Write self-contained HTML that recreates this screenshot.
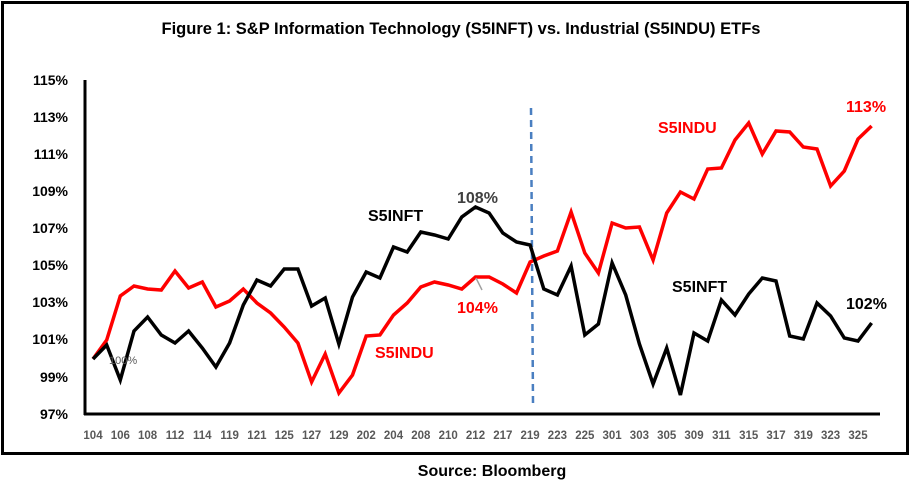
<!DOCTYPE html>
<html><head><meta charset="utf-8"><style>
body{margin:0;background:#fff;}
svg text{font-family:"Liberation Sans",Arial,sans-serif;}
</style></head><body>
<svg width="922" height="485" viewBox="0 0 922 485" xmlns="http://www.w3.org/2000/svg">
<rect x="0" y="0" width="922" height="485" fill="#fff"/>
<rect x="2.5" y="2.5" width="905" height="451" fill="none" stroke="#000" stroke-width="3"/>
<text x="461" y="34" text-anchor="middle" font-size="16.5" font-weight="bold">Figure 1:  S&amp;P Information Technology (S5INFT) vs. Industrial (S5INDU) ETFs</text>
<g font-size="14" font-weight="bold" text-anchor="end">
<text x="68" y="85">115%</text><text x="68" y="122">113%</text><text x="68" y="159">111%</text><text x="68" y="196">109%</text><text x="68" y="233">107%</text><text x="68" y="270">105%</text><text x="68" y="307">103%</text><text x="68" y="344">101%</text><text x="68" y="382">99%</text><text x="68" y="419">97%</text>
</g>
<line x1="85" y1="80" x2="85" y2="415" stroke="#000" stroke-width="3"/>
<line x1="84" y1="414" x2="880" y2="414" stroke="#000" stroke-width="3"/>
<g font-size="11.5" font-weight="bold" fill="#595959" text-anchor="middle" id="xl"></g>
<line x1="531" y1="108" x2="533" y2="404" stroke="#4a7fc1" stroke-width="2.5" stroke-dasharray="7,5"/>
<polyline id="red" fill="none" stroke="#ff0000" stroke-width="3.5" stroke-linejoin="miter"/>
<polyline id="blk" fill="none" stroke="#000" stroke-width="3.5" stroke-linejoin="miter"/>
<line x1="476" y1="278" x2="482" y2="290" stroke="#a0a0a0" stroke-width="1.5"/>
<g font-size="16" font-weight="bold">
<text x="368" y="221" fill="#000">S5INFT</text>
<text x="457" y="203" fill="#404040">108%</text>
<text x="457" y="313" fill="#ff0000">104%</text>
<text x="375" y="358" fill="#ff0000">S5INDU</text>
<text x="658" y="133" fill="#ff0000">S5INDU</text>
<text x="846" y="112" fill="#ff0000">113%</text>
<text x="672" y="292" fill="#000">S5INFT</text>
<text x="846" y="309" fill="#000">102%</text>
</g>
<text x="109" y="364" font-size="11" fill="#595959">100%</text>
<text x="492" y="476" text-anchor="middle" font-size="16" font-weight="bold">Source: Bloomberg</text>
</svg>
<script>
var B=[359,345,380,331,317,335,343,331,348,367,343,305,280,286,269,269,306,298,344,297,272,278,247,252,232,235,239,217,207,213,233,242,245,289,295,266,335,324,263,295,344,384,348,395,333,341,300,315,294,278,281,336,339,303,316,338,341,323];
var R=[359,340,296,286,289,290,271,288,282,307,301,289,303,313,327,343,382,354,393,375,336,335,315,303,287,282,285,289,277,277,284,293,262,256,251,212,253,273,223,228,227,260,213,192,199,169,168,140,123,154,131,132,147,149,186,171,139,126];
function pts(a){return a.map(function(y,i){return (93+i*13.66).toFixed(1)+","+y}).join(" ");}
document.getElementById("blk").setAttribute("points",pts(B));
document.getElementById("red").setAttribute("points",pts(R));
var L=["104","106","108","112","114","119","121","125","127","129","202","204","208","210","212","217","219","223","225","301","303","305","309","311","315","317","319","323","325"];
var g=document.getElementById("xl"),s="";
L.forEach(function(t,i){s+='<text x="'+(93+i*27.32).toFixed(1)+'" y="439">'+t+'</text>';});
g.innerHTML=s;
</script>
</body></html>
